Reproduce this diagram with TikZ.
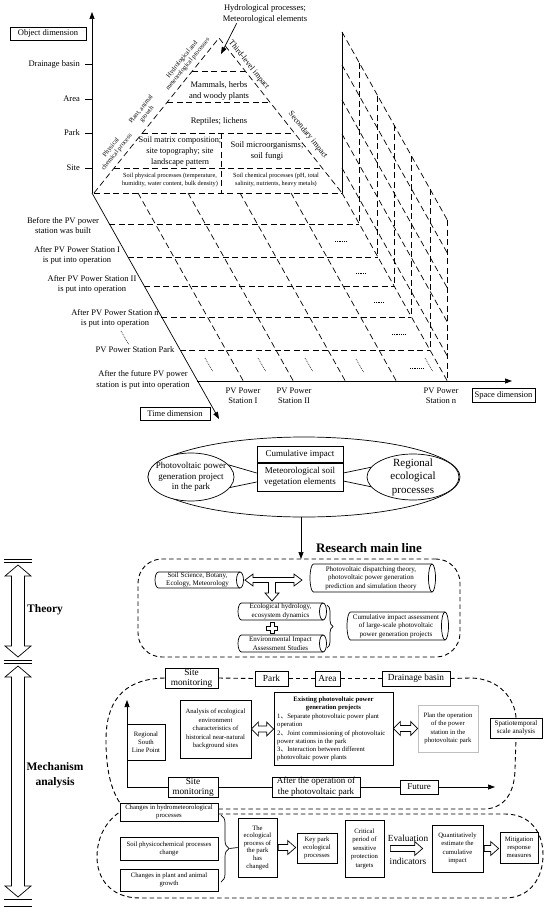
\documentclass[tikz,border=0pt]{standalone}
\usepackage{fontspec}
\setmainfont{Liberation Serif}
\newfontfamily\cjkf{Noto Sans CJK SC}
\usetikzlibrary{arrows.meta,decorations.pathreplacing,calc,shapes.geometric}
\newcommand\fsz[2]{\fontsize{#1}{#2}\selectfont}
\tikzset{
  ln/.style={line width=0.7pt},
  dsh/.style={line width=0.7pt, dash pattern=on 6pt off 3.5pt},
  dshb/.style={line width=0.9pt, dash pattern=on 4.5pt off 3pt},
  dots/.style={line width=0.6pt, dash pattern=on 0.8pt off 1pt},
  arr/.style={-{Triangle[length=7pt,width=5pt]}},
  txt/.style={inner sep=0pt, align=center},
  bx/.style={draw, line width=0.7pt, inner sep=0pt, align=center},
  hol/.style={draw, line width=0.7pt, fill=white, line join=miter},
}
\newcommand\boxat[8][]{%
  \node[bx,#1, minimum width={#5-#3}, minimum height={#6-#4}, font=#7] (#2) at ({(#3+#5)/2},{(#4+#6)/2}) {#8};}
\newcommand\cyl[6]{%
  \node[txt, minimum width={#4-#2}, minimum height={#5-#3}, font=\fsz{7}{8.4}] (#1) at ({(#2+#4)/2},{(#3+#5)/2}) {#6};
  \draw[ln] (#4,#3) -- ({#2+3.5},#3) arc[start angle=270, end angle=90, x radius=3.5, y radius={(#5-#3)/2}] -- (#4,#5);
  \draw[ln] (#4,{(#3+#5)/2}) ellipse[x radius=3.5, y radius={(#5-#3)/2}];}
\newcommand\hdarr[2]{%
  \draw[hol] let \p1=(#1.east), \p2=(#2.west) in
    (\x1,\y1) -- (\x1+7pt,\y1+7pt) -- (\x1+7pt,\y1+3pt) -- (\x2-7pt,\y1+3pt) -- (\x2-7pt,\y1+7pt) -- (\x2,\y1)
    -- (\x2-7pt,\y1-7pt) -- (\x2-7pt,\y1-3pt) -- (\x1+7pt,\y1-3pt) -- (\x1+7pt,\y1-7pt) -- cycle;}
\newcommand\sarr[4]{%
  \draw[hol] let \p1=(#1.east), \p2=(#2.west) in
    (\x1+#3,\y1+3pt) -- (\x2-#4-8pt,\y1+3pt) -- (\x2-#4-8pt,\y1+7pt) -- (\x2-#4,\y1) -- (\x2-#4-8pt,\y1-7pt) -- (\x2-#4-8pt,\y1-3pt) -- (\x1+#3,\y1-3pt) -- cycle;}
\newcommand\vdarr[2]{%
  \draw[hol] (18,#1) -- (31,{#1+11}) -- (24.5,{#1+11}) -- (24.5,{#2-11}) -- (31,{#2-11}) -- (18,#2) -- (5,{#2-11}) -- (11.5,{#2-11}) -- (11.5,{#1+11}) -- (5,{#1+11}) -- cycle;}
\begin{document}
\begin{tikzpicture}[x=1pt,y=-1pt]
\useasboundingbox (0,0) rectangle (550,912);

%% ================= 3D frame =================
\coordinate (O) at (92,193);
\coordinate (Otop) at (92,12);
\coordinate (Tend) at (219,419);
\coordinate (S0) at (197.3,381);
\coordinate (Send) at (512,381);

% right face
\draw[ln] (342,32) -- (342,193);
\foreach \yy in {32,65,100,134,168,193} \draw[dsh] (342,\yy) -- (447.3,{\yy+188});
\foreach \r in {224,257,286,317,350,381} {
  \pgfmathsetmacro\xe{342+0.56*(\r-193)}
  \pgfmathsetmacro\yt{32+\r-193}
  \draw[dsh] (\xe,\yt) -- (\xe,\r);
}
% floor
\foreach \r in {224,257,286,317,350} {
  \pgfmathsetmacro\xs{92+0.56*(\r-193)}
  \pgfmathsetmacro\xe{342+0.56*(\r-193)}
  \draw[dsh] (\xs,\r) -- (\xe,\r);
}
\foreach \bx in {138,188,240,291} \draw[dsh] (\bx,193) -- ({\bx+105.3},381);

% pyramid
\draw[dsh] (94,193) -- (342,193);
\draw[dsh] (94,193) -- (219,38) -- (342,193);
\draw[dsh] (192.4,71) -- (245.2,71);
\draw[dsh] (167.4,102) -- (269.7,102);
\draw[dsh] (142.4,133) -- (294.4,133);
\draw[dsh] (114.2,168) -- (322.1,168);
\draw[dsh] (221,133) -- (221,193);

% axes
\draw[ln,arr] (O) -- (Otop);
\draw[ln,arr] (O) -- (Tend);
\draw[ln,arr] (S0) -- (Send);
\node[bx, minimum width=76, minimum height=13, font=\fsz{8.5}{10}] (objdim) at (48,33.5) {Object dimension};
\node[bx, minimum width=70, minimum height=13, font=\fsz{8.5}{10}] (timedim) at (175,413.5) {Time dimension};
\node[bx, minimum width=63, minimum height=14, font=\fsz{8.5}{10}] (spacedim) at (503.5,395) {Space dimension};

\foreach \yy/\lab/\nm in {64/Drainage basin/tdb, 99/Area/tar, 133/Park/tpk, 168/Site/tst} {
  \draw[ln] (85,\yy) -- (92,\yy);
  \node[txt, anchor=east, font=\fsz{8.5}{10}] (\nm) at (80,\yy) {\lab};
}

% pyramid texts
\node[txt, font=\fsz{8.5}{10.5}] (hydtop) at (265,14) {Hydrological processes;\\Meteorological elements};
\coordinate (apexin) at (221,54);
\draw[ln,arr] ([xshift=14pt]hydtop.south west) -- (apexin);
\node[txt, font=\fsz{8.5}{11}] (mammals) at (219,91) {Mammals, herbs\\and woody plants};
\node[txt, font=\fsz{8.5}{11}] (reptiles) at (219,121) {Reptiles; lichens};
\node[txt, font=\fsz{8.3}{11}] (soilmat) at (180,152) {Soil matrix composition;\\site topography; site\\landscape pattern};
\node[txt, font=\fsz{8.5}{11}] (soilmic) at (267,150.5) {Soil microorganisms;\\soil fungi};
\node[txt, font=\fsz{6.3}{8}] (soilphy) at (170,180) {Soil physical processes (temperature,\\humidity, water content, bulk density)};
\node[txt, font=\fsz{6.3}{8}] (soilche) at (276,180) {Soil chemical processes (pH, total\\salinity, nutrients, heavy metals)};
\node[txt, rotate=51, font=\fsz{6.5}{7.5}] (lbpcp) at (114,150) {Physical\\chemical process};
\node[txt, rotate=51, font=\fsz{6.5}{7.5}] (lbpag) at (144,112) {Plant, animal\\growth};
\node[txt, rotate=51, font=\fsz{6.5}{7.5}] (lbhmp) at (185,62) {Hydrological and\\meteorological processes};
\node[txt, rotate=-51, font=\fsz{8}{9}] (lbthird) at (249,65) {Third-level impact};
\node[txt, rotate=-51, font=\fsz{8}{9}] (lbsec) at (308,135) {Secondary impact};

% time labels
\node[txt, font=\fsz{8.5}{10.5}] (t0) at (63,225.5) {Before the PV power\\station was built};
\node[txt, font=\fsz{8.5}{10.5}] (t1) at (77,255.5) {After PV Power Station I\\is put into operation};
\node[txt, font=\fsz{8.5}{10.5}] (t2) at (92,284.5) {After PV Power Station II\\is put into operation};
\node[txt, font=\fsz{8.5}{10.5}] (t3) at (115,318.5) {After PV Power Station n\\is put into operation};
\node[txt, font=\fsz{8.5}{10.5}] (t4) at (135,350) {PV Power Station Park};
\node[txt, font=\fsz{8.5}{10.5}] (t5) at (143,380) {After the future PV power\\station is put into operation};
% space labels
\node[txt, font=\fsz{8.5}{10}] (s1) at (243,395.5) {PV Power\\Station I};
\node[txt, font=\fsz{8.5}{10}] (s2) at (294,395.5) {PV Power\\Station II};
\node[txt, font=\fsz{8.5}{10}] (s3) at (441,395.5) {PV Power\\Station n};
% dots
\draw[dots] (335,241) -- (347,241);
\draw[dots] (356,273) -- (366,273);
\draw[dots] (374,302) -- (384,302);
\draw[dots] (392,334) -- (405,334);
\draw[dots] (410,368) -- (423,368);
\foreach \dx/\dy in {205/358,258/358,305/358,356/359,425/358,121/331}
  \draw[dots] (\dx,\dy) -- ({\dx+7.5},{\dy+13});

%% ================= research main line =================
\node[draw, ln, ellipse, inner sep=0pt, minimum width=312, minimum height=80] (bigell) at (304,477) {};
\node[draw, ln, ellipse, inner sep=0pt, minimum width=86, minimum height=48, fill=white] (pvell) at (191,477) {};
\node[txt, font=\fsz{9}{10.5}] (pvtxt) at (pvell) {Photovoltaic power\\generation project\\in the park};
\node[draw, ln, ellipse, inner sep=0pt, minimum width=92, minimum height=46, fill=white] (regell) at (413,477) {};
\node[txt, font=\fsz{11}{13.5}] (regtxt) at (regell) {Regional\\ecological\\processes};
\boxat{cumimp}{257}{446}{343}{462}{\fsz{9}{10}}{Cumulative impact}
\boxat{ms}{257}{463}{343}{491}{\fsz{9}{11}}{Meteorological soil\\vegetation elements}
\draw[ln] (pvell.18) -- ([yshift=4pt]ms.west);
\draw[ln] (pvell.-15) -- ([yshift=-5pt]ms.west);
\draw[ln] ([yshift=4pt]ms.east) -- (regell.167);
\draw[ln] ([yshift=-4pt]ms.east) -- (regell.193);

\node[draw, dshb, rounded corners=24, minimum width=322, minimum height=98] (thbox) at (299,608) {};
\coordinate (rmtop) at (301,559);
\draw[ln,arr] (bigell.south -| rmtop) -- (rmtop);
\node[txt, font=\bfseries\fsz{13}{15}] (rmlab) at (369,548) {Research main line};

%% ================= theory =================
\cyl{cA}{155}{572}{240}{588}{Soil Science, Botany,\\Ecology, Meteorology}
\cyl{cB}{310}{564}{432}{592}{Photovoltaic dispatching theory,\\photovoltaic power generation\\prediction and simulation theory}
\cyl{cC}{238}{603}{323}{620}{Ecological hydrology,\\ecosystem dynamics}
\cyl{cD}{238}{635}{323}{652}{Environmental Impact\\Assessment Studies}
\cyl{cE}{347}{612}{445}{640}{Cumulative impact assessment\\of large-scale photovoltaic\\power generation projects}
\draw[hol] (245,580) -- (253,574) -- (253,577.5) -- (294,577.5) -- (294,574) -- (302,580) -- (294,586) -- (294,582.5) -- (275.5,582.5) -- (275.5,593) -- (279,593) -- (272,601) -- (265,593) -- (268.5,593) -- (268.5,582.5) -- (253,582.5) -- (253,586) -- cycle;
\draw[hol] (270,622.5) -- (274,622.5) -- (274,626) -- (277.5,626) -- (277.5,630) -- (274,630) -- (274,633.5) -- (270,633.5) -- (270,630) -- (266.5,630) -- (266.5,626) -- (270,626) -- cycle;
\draw[ln, decorate, decoration={brace, amplitude=6pt}] (327,605) -- (327,648);

% left scale
\foreach \yy in {559,562,660,663,899.5,906} \draw[ln] (4,\yy) -- (32,\yy);
\vdarr{565}{657}
\vdarr{666}{897}
\node[txt, anchor=west, font=\bfseries\fsz{11.5}{13}] (theorylab) at (27,610) {Theory};
\node[txt, font=\bfseries\fsz{11.5}{15}] (mechlab) at (55,775) {Mechanism\\analysis};

%% ================= mechanism upper =================
\boxat{sm1}{165}{668}{218}{688}{\fsz{9.3}{10}}{Site\\monitoring}
\boxat{park}{255}{671}{288}{686}{\fsz{9.3}{10}}{Park}
\boxat{area}{315}{671}{340}{686}{\fsz{9.3}{10}}{Area}
\boxat{db}{382}{671}{450}{686}{\fsz{9.3}{10}}{Drainage basin}
\draw[dshb] (sm1.east) -- (park.west);
\draw[dshb] (park.east) -- (area.west);
\draw[dshb] (area.east) -- (db.west);

\boxat{chg1}{120}{803}{218}{821}{\fsz{6.7}{8.2}}{Changes in hydrometeorological\\processes}
\boxat{spat}{490}{718}{542}{738}{\fsz{7}{8.5}}{Spatiotemporal\\scale analysis}
\draw[dshb] (sm1.west) .. controls (120,679) and (106,705) .. (106,740) .. controls (106,775) and (113,792) .. (chg1.north west);
\draw[dshb] ([yshift=3pt]chg1.east) -- (485,809) .. controls (505,808) and (515,792) .. (515,768) -- (spat.south);
\draw[dshb] (spat.north) .. controls (515,700) and (500,678) .. (470,678) -- (db.east);

\coordinate (corner) at (127,787);
\coordinate (uptip) at (127,700);
\draw[ln,arr] (corner) -- (uptip);
\boxat{rslp}{127}{724}{165}{760}{\fsz{6.7}{8.3}}{Regional\\South\\Line Point}
\boxat{anal}{180}{700}{251}{758}{\fsz{6.7}{8.5}}{Analysis of ecological\\environment\\characteristics of\\historical near-natural\\background sites}
\boxat{exist}{274}{692}{393}{765}{\fsz{6.7}{8.2}}{}
\node[txt, font=\bfseries\fsz{6.7}{8.2}] (existh) at (333.5,704) {Existing photovoltaic power\\generation projects};
\node[txt, anchor=west, align=left, font=\fsz{6.7}{8.2}] (existb) at (277,737.5) {1{\cjkf 、}Separate photovoltaic power plant\\operation\\2{\cjkf 、}Joint commissioning of photovoltaic\\power stations in the park\\3{\cjkf 、}Interaction between different\\photovoltaic power plants};
\boxat[draw=black!25]{plan}{418}{705}{478}{752}{\fsz{6.7}{8.3}}{Plan the operation\\of the power\\station in the\\photovoltaic park}
\hdarr{anal}{exist}
\hdarr{exist}{plan}

\boxat{sm2}{168}{777}{218}{797}{\fsz{9.3}{10}}{Site\\monitoring}
\boxat{after}{272}{777}{360}{797}{\fsz{9}{10.5}}{After the operation of\\the photovoltaic park}
\boxat{future}{400}{780}{438}{794}{\fsz{9}{10}}{Future}
\coordinate (futend) at (495,787);
\draw[ln] (corner) -- (sm2.west);
\draw[ln] (sm2.east) -- (after.west);
\draw[ln] (after.east) -- (future.west);
\draw[ln,arr] (future.east) -- (futend);

%% ================= mechanism lower =================
\draw[dshb] ([yshift=-2pt]chg1.east) -- (505,814) .. controls (530,814) and (543,832) .. (543,855) .. controls (543,878) and (530,898) .. (505,898) -- (140,898) .. controls (110,898) and (97,878) .. (97,857) .. controls (97,835) and (108,820) .. (chg1.west);
\boxat{chg2}{120}{837}{218}{860}{\fsz{6.7}{8.2}}{Soil physicochemical processes\\change}
\boxat{chg3}{120}{869}{218}{891}{\fsz{6.7}{8.2}}{Changes in plant and animal\\growth}
\draw[ln, decorate, decoration={brace, amplitude=8pt}] (221,815) -- (221,882);
\boxat{ecol}{238}{818}{277}{877}{\fsz{6.7}{7.6}}{The\\ecological\\process of\\the park\\has\\changed}
\coordinate (brtip) at (229.5,848.5);
\draw[ln] (brtip) -- (ecol.west);
\boxat{keyp}{297}{833}{337}{863}{\fsz{6.7}{8.3}}{Key park\\ecological\\processes}
\boxat{crit}{345}{820}{384}{877}{\fsz{6.7}{8.5}}{Critical\\period of\\sensitive\\protection\\targets}
\boxat{quant}{432}{825}{483}{872}{\fsz{6.7}{8.5}}{Quantitatively\\estimate the\\cumulative\\impact}
\boxat{mitig}{500}{832}{538}{863}{\fsz{6.7}{8.3}}{Mitigation\\response\\measures}
\node[txt, font=\fsz{9.3}{10}] (evall) at (408,838) {Evaluation};
\node[txt, font=\fsz{9.3}{10}] (indl) at (408,861) {indicators};
\sarr{ecol}{keyp}{1pt}{1pt}
\sarr{crit}{quant}{6pt}{9pt}
\sarr{quant}{mitig}{1pt}{1pt}
\end{tikzpicture}
\end{document}
